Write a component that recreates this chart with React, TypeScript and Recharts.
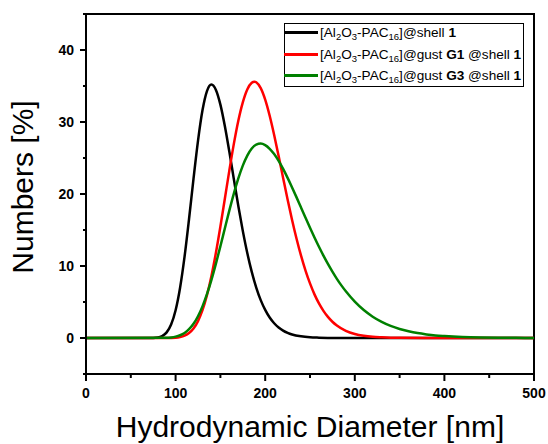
import React from "react";
import { LineChart, Line, XAxis, YAxis, Legend, ReferenceArea } from "recharts";

// Hydrodynamic diameter (nm) and number distribution (%) for each sample
const shellX = [0, 70, 80, 85, 90, 95, 100, 105, 110, 115, 120, 125, 130, 135, 140, 145, 150, 155, 160, 165, 170, 175, 180, 185, 190, 195, 200, 205, 210, 215, 220, 225, 230, 240, 250, 260, 280, 500];
const shellY = [0, 0, 0.08, 0.27, 0.78, 1.87, 3.86, 6.99, 11.3, 16.53, 22.13, 27.39, 31.62, 34.3, 35.2, 34.46, 32.42, 29.42, 25.86, 22.07, 18.33, 14.88, 11.8, 9.18, 7.01, 5.26, 3.9, 2.84, 2.05, 1.46, 1.03, 0.72, 0.49, 0.23, 0.1, 0.05, 0.01, 0];

const g1X = [0, 90, 100, 105, 110, 115, 120, 125, 130, 135, 140, 145, 150, 155, 160, 165, 170, 175, 180, 185, 188, 190, 195, 200, 205, 210, 215, 220, 225, 230, 235, 240, 245, 250, 255, 260, 265, 270, 275, 280, 290, 300, 310, 320, 330, 340, 350, 380, 500];
const g1Y = [0, 0, 0.05, 0.14, 0.33, 0.69, 1.32, 2.35, 3.86, 5.95, 8.62, 11.84, 15.49, 19.38, 23.28, 26.96, 30.18, 32.73, 34.52, 35.45, 35.6, 35.52, 34.7, 33.1, 30.86, 28.19, 25.26, 22.23, 19.24, 16.4, 13.79, 11.43, 9.36, 7.58, 6.06, 4.8, 3.77, 2.93, 2.26, 1.73, 0.99, 0.55, 0.3, 0.16, 0.09, 0.04, 0.02, 0, 0];

const g3X = [0, 90, 95, 100, 105, 110, 115, 120, 125, 130, 135, 140, 145, 150, 155, 160, 165, 170, 175, 180, 185, 190, 195, 200, 205, 210, 215, 220, 225, 230, 235, 240, 245, 250, 255, 260, 265, 270, 275, 280, 285, 290, 300, 310, 320, 330, 340, 350, 360, 370, 380, 390, 400, 420, 440, 460, 480, 500];
const g3Y = [0, 0.03, 0.08, 0.19, 0.38, 0.7, 1.22, 1.97, 3.02, 4.39, 6.08, 8.08, 10.33, 12.75, 15.25, 17.72, 20.06, 22.16, 23.94, 25.34, 26.32, 26.87, 27.0, 26.78, 26.28, 25.54, 24.59, 23.48, 22.24, 20.91, 19.53, 18.11, 16.7, 15.31, 13.96, 12.67, 11.44, 10.29, 9.22, 8.22, 7.31, 6.49, 5.05, 3.88, 2.96, 2.24, 1.68, 1.25, 0.93, 0.68, 0.5, 0.36, 0.27, 0.14, 0.07, 0.04, 0.02, 0.01];

const xDomain = [0, 500];
const yDomain = [-5, 45];
const xMajorTicks = [0, 100, 200, 300, 400, 500];
const xMinorTicks = [50, 150, 250, 350, 450];
const yMajorTicks = [0, 10, 20, 30, 40];
const yMinorTicks = [-5, 5, 15, 25, 35, 45];

const seriesColors = ["#000000", "#ff0000", "#008000"];

const toPoints = (xs: number[], ys: number[]) => xs.map((x, i) => ({ x, y: ys[i] }));
const shellData = toPoints(shellX, shellY);
const g1Data = toPoints(g1X, g1Y);
const g3Data = toPoints(g3X, g3Y);

const FONT = "'Liberation Sans', Arial, sans-serif";

const XTick = (props: any) => {
  const { x, y, payload } = props;
  const major = xMajorTicks.includes(payload.value);
  return (
    <g>
      <line x1={x} x2={x} y1={y} y2={y + (major ? 7 : 4)} stroke="#000" strokeWidth={2} />
      {major && (
        <text x={x} y={y + 14} dy="0.71em" textAnchor="middle" fontFamily={FONT} fontWeight="bold" fontSize={14} fill="#000">
          {payload.value}
        </text>
      )}
    </g>
  );
};

const YTick = (props: any) => {
  const { x, y, payload } = props;
  const major = yMajorTicks.includes(payload.value);
  return (
    <g>
      <line x1={x} x2={x - (major ? 6 : 3)} y1={y} y2={y} stroke="#000" strokeWidth={2} />
      {major && (
        <text x={x - 12} y={y} dy="0.355em" textAnchor="end" fontFamily={FONT} fontWeight="bold" fontSize={14} fill="#000">
          {payload.value}
        </text>
      )}
    </g>
  );
};

const XTitle = (props: any) => {
  const vb = props.viewBox || { x: 86, y: 374, width: 448, height: 70 };
  return (
    <text x={vb.x + vb.width / 2} y={vb.y + 63} textAnchor="middle" fontFamily={FONT} fontSize={30} fill="#000">
      Hydrodynamic Diameter [nm]
    </text>
  );
};

const YTitle = (props: any) => {
  const vb = props.viewBox || { x: 0, y: 14, width: 86, height: 360 };
  const cx = vb.x + 33;
  const cy = vb.y + vb.height / 2 - 7;
  return (
    <text x={cx} y={cy} transform={`rotate(-90, ${cx}, ${cy})`} textAnchor="middle" fontFamily={FONT} fontSize={30} fill="#000">
      Numbers [%]
    </text>
  );
};

const Sub = ({ children }: { children: React.ReactNode }) => (
  <span style={{ fontSize: 9.5, position: "relative", top: 3 }}>{children}</span>
);

const Base = () => (
  <>
    [Al<Sub>2</Sub>O<Sub>3</Sub>-PAC<Sub>16</Sub>]
  </>
);

const legendLabels: React.ReactNode[] = [
  <>
    <Base />@shell <b>1</b>
  </>,
  <>
    <Base />@gust <b>G1</b> @shell <b>1</b>
  </>,
  <>
    <Base />@gust <b>G3</b> @shell <b>1</b>
  </>,
];

const rowTops = [0, 22, 43];

const LegendBox = () => (
  <div
    style={{
      position: "relative",
      width: 240,
      height: 64,
      border: "1px solid #000",
      boxSizing: "border-box",
      background: "#fff",
      fontFamily: FONT,
      fontSize: 13.6,
      color: "#000",
    }}
  >
    {legendLabels.map((lab, i) => (
      <div key={i} style={{ position: "absolute", left: -1, top: rowTops[i], height: 18, width: 240, whiteSpace: "nowrap" }}>
        <div style={{ position: "absolute", left: 0, top: 7, width: 34, height: 3, background: seriesColors[i] }} />
        <div style={{ position: "absolute", left: 36, top: 0, lineHeight: "18px" }}>{lab}</div>
      </div>
    ))}
  </div>
);

export default function App() {
  return (
    <div style={{ position: "absolute", left: 0, top: 0, background: "#fff" }}>
      <LineChart width={548} height={444} margin={{ top: 14, right: 14, bottom: 0, left: 0 }}>
        <XAxis
          dataKey="x"
          type="number"
          domain={xDomain}
          ticks={[...xMajorTicks, ...xMinorTicks].sort((a, b) => a - b)}
          interval={0}
          height={70}
          tickSize={0}
          tickMargin={0}
          tickLine={false}
          tick={<XTick />}
          axisLine={{ stroke: "#000", strokeWidth: 2 }}
          allowDataOverflow
          label={<XTitle />}
        />
        <YAxis
          type="number"
          domain={yDomain}
          ticks={[...yMajorTicks, ...yMinorTicks].sort((a, b) => a - b)}
          interval={0}
          width={86}
          tickSize={0}
          tickMargin={0}
          tickLine={false}
          tick={<YTick />}
          axisLine={{ stroke: "#000", strokeWidth: 2 }}
          allowDataOverflow
          label={<YTitle />}
        />
        <ReferenceArea x1={xDomain[0]} x2={xDomain[1]} y1={yDomain[0]} y2={yDomain[1]} fill="none" stroke="#000" strokeWidth={2} ifOverflow="visible" />
        <Legend
          layout="horizontal"
          verticalAlign="middle"
          align="center"
          wrapperStyle={{ left: 284, top: 23, width: 240, height: 64 }}
          content={<LegendBox />}
        />
        <Line data={shellData} dataKey="y" type="monotone" stroke={seriesColors[0]} strokeWidth={2.5} dot={false} isAnimationActive={false} />
        <Line data={g1Data} dataKey="y" type="monotone" stroke={seriesColors[1]} strokeWidth={2.5} dot={false} isAnimationActive={false} />
        <Line data={g3Data} dataKey="y" type="monotone" stroke={seriesColors[2]} strokeWidth={2.5} dot={false} isAnimationActive={false} />
      </LineChart>
    </div>
  );
}
